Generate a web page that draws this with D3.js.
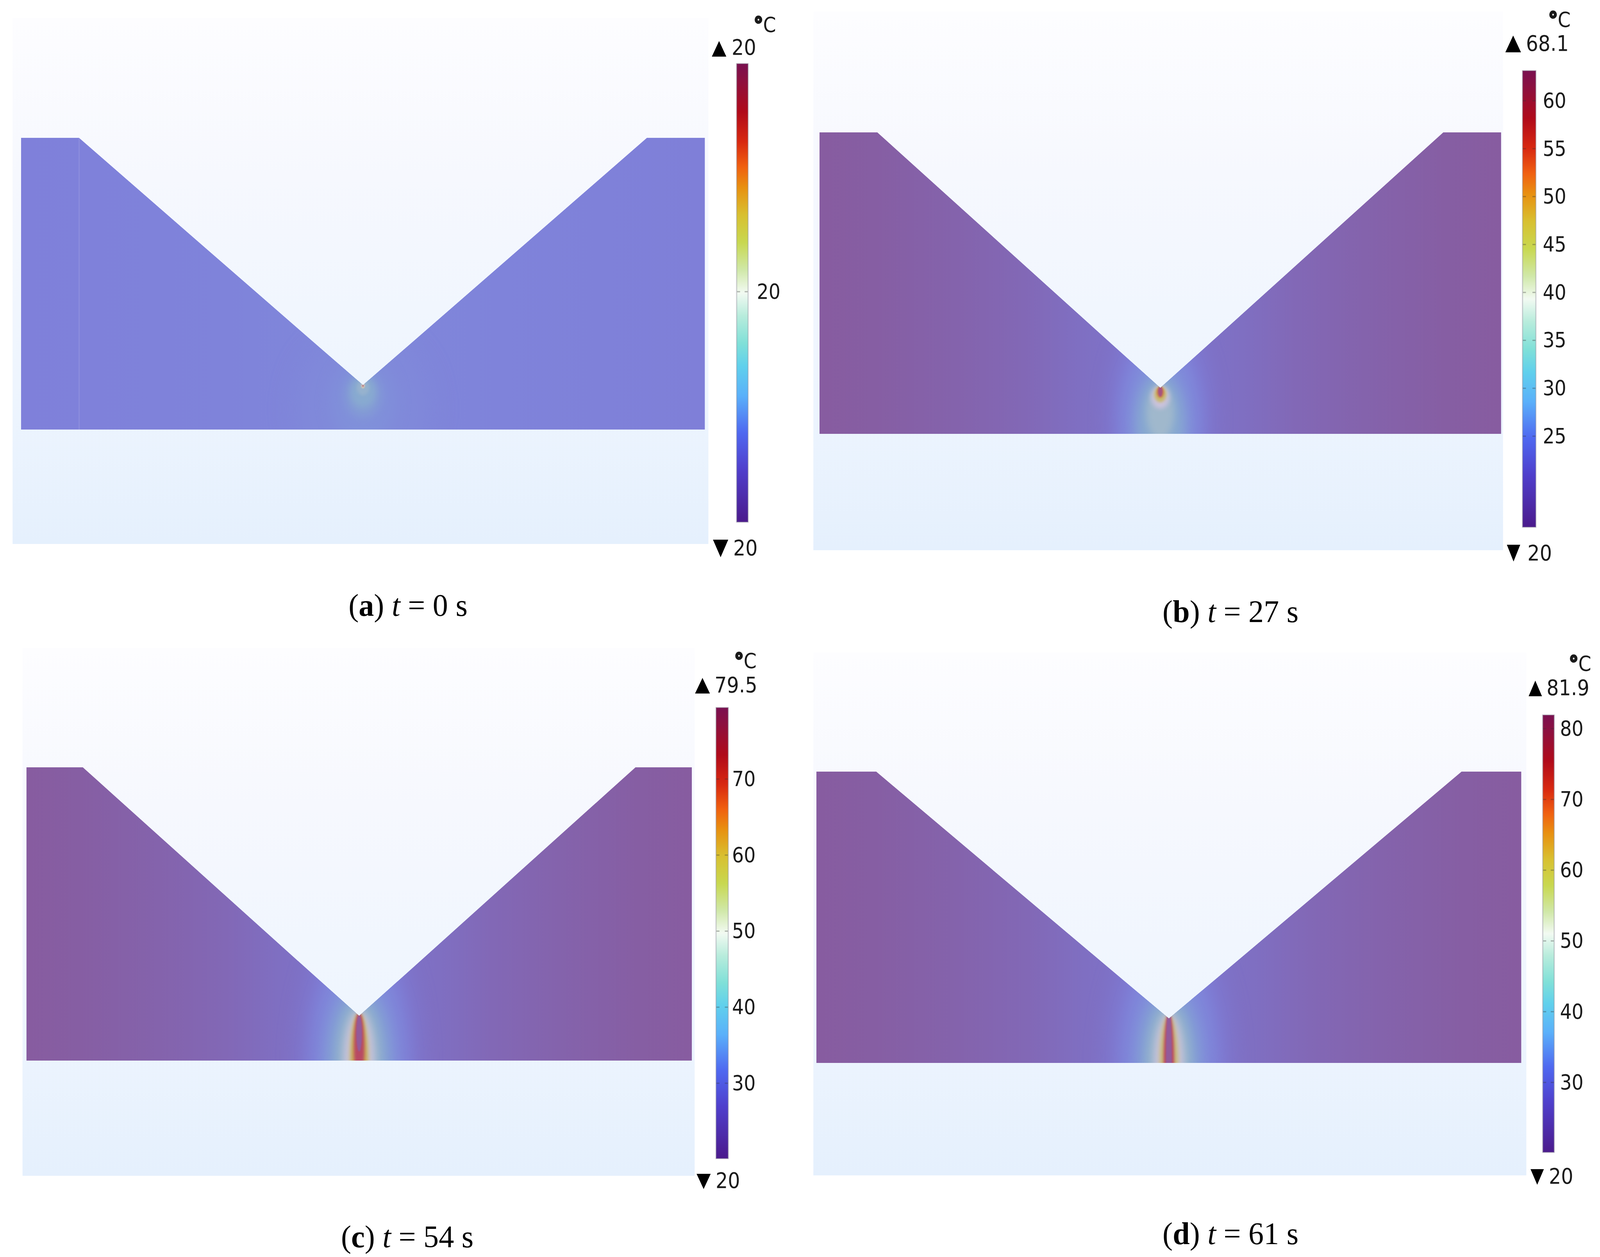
<!DOCTYPE html>
<html><head><meta charset="utf-8">
<script src="https://cdn.jsdelivr.net/npm/d3@7"></script>
<style>html,body{margin:0;padding:0;background:#fff;overflow:hidden}svg{display:block}</style>
</head><body><div id="chart"></div>
<script>
// ---------- data (model units: plate half-width 50, thickness 42) ----------
const panelIds   = ["a", "b", "c", "d"];
const timesS     = [0, 27, 54, 61];
const maxTemps   = ["20", "68.1", "79.5", "81.9"];
const minTemps   = ["20", "20", "20", "20"];
const ticksA = [20];
const ticksB = [25, 30, 35, 40, 45, 50, 55, 60];
const ticksC = [30, 40, 50, 60, 70];
const ticksD = [30, 40, 50, 60, 70, 80];

// plate outline with V groove
const outlineX = [-50, -41.5, 0, 41.5, 50, 50, -50];
const outlineY = [42, 42, 6.4, 42, 42, 0, 0];

// colour-bar stops: fraction of range, colour
const barFractions = [0, .115, .195, .275, .34, .39, .45, .50, .55, .61, .67, .73, .775, .83, .895, .965, 1];
const barColors = ["#4b1a8c","#4f3fcc","#4f68f0","#5ab0fa","#60d0ec","#80e0d8","#b8ecdc","#f2faf2","#d0e8a8","#c8d850","#d8c030","#e89010","#f06010","#d82810","#b00a1a","#8c1040","#7a1050"];

// colours seen on the plate for a relative temperature level
const fieldLevels = [0, .1, .15, .2, .3, .4, .5, .6, .7, .8, .9, 1];
const fieldColors = ["#875ca0","#7e72c8","#7f80da","#8090da","#88aad0","#a0b8cc","#cbc3dc","#c8c090","#c8b050","#c88050","#b84a64","#935a9a"];

// far-field level across the plate: [x, level]
const baseA = [[-50,.15],[-20,.16],[0,.175],[20,.16],[50,.145]];
const baseHot = [[-50,0],[-42,.008],[-30,.03],[-20,.055],[-12,.085],[-6,.1],[0,.11],[6,.1],[12,.085],[20,.055],[30,.03],[42,.008],[50,0]];

// isotherm bands: [level, half-width, centre y, half-height]
const bandsA = [[.18,9,3,10],[.2,4.5,4,6],[.25,2.6,5,3.2],[.3,1.8,5.4,2.2],[.36,.9,6,1.1],[.55,.3,6.3,.4],[.9,.1,6.3,.12]];
const bandsB = [[.15,6.8,2,14],[.2,5.2,1.5,10.5],[.3,3.5,1.5,6.8],[.4,2,3,3.8],[.5,1.35,5.1,1.6],[.65,.9,5.5,1.1],[.8,.55,5.8,.8],[.95,.32,5.9,.7]];
const bandsC = [[.15,8,0,19],[.2,6.2,0,14],[.3,4.4,0,10],[.4,3,0,8],[.5,2.2,0,7],[.65,1.4,0,6.7],[.75,1.05,0,6.7],[.9,.75,2,4.9],[1,.42,3.9,2.6]];
const bandsD = [[.15,7.8,0,19],[.2,5.8,0,14],[.3,4,0,10],[.4,2.8,0,8],[.5,2,0,7],[.65,1.3,0,6.8],[.9,.75,0,7.2],[1,.42,0,8]];

// ---------- layout ----------
const W = 4192, H = 3219;
const frames = [
 {bg:[33,46,1856,1393],  plate:[55,1847,1100,353],  bar:[1930,1960,163,1337],  dom:[19,21],  rng:[777,717],   pad:23, up:[1865,105,1903,145,1917,140],  dn:[1868,1382,1908,1427,1921,1422], unit:[1975,82],  cap:[1069,1577]},
 {bg:[2131,30,3938,1409],plate:[2147,3933,1111,339],bar:[3989,4024,181,1350],  dom:[25,60],  rng:[1117,258],  pad:18, up:[3944,91,3985,134,3998,130],   dn:[3948,1395,3983,1438,4002,1435], unit:[4057,69],  cap:[3224,1593]},
 {bg:[59,1660,1820,3011],plate:[69,1813,2716,1965], bar:[1876,1908,1812,2967], dom:[30,70],  rng:[2774,1995], pad:10, up:[1821,1736,1860,1776,1872,1773],dn:[1825,3006,1862,3045,1875,3042],unit:[1924,1711],cap:[1067,3194]},
 {bg:[2131,1671,3999,3010],plate:[2139,3986,2722,1976],bar:[4042,4072,1831,2951],dom:[30,80],rng:[2772,1866],pad:15, up:[4005,1743,4040,1783,4052,1780],dn:[4010,2994,4045,3034,4058,3031],unit:[4111,1718],cap:[3224,3186]}
];
const panelBands = [bandsA, bandsB, bandsC, bandsD];
const panelBase  = [baseA, baseHot, baseHot, baseHot];
const panelTicks = [ticksA, ticksB, ticksC, ticksD];

const levelColor = d3.scaleLinear().domain(fieldLevels).range(fieldColors);
// the browser window may be narrower than the figure: keep the whole figure in it
const svg = d3.select("#chart").append("svg")
  .attr("width", window.innerWidth).attr("height", H)
  .attr("viewBox", `0 0 ${W} ${H}`).attr("preserveAspectRatio", "none");
svg.append("rect").attr("width", W).attr("height", H).attr("fill", "#fff");
const defs = svg.append("defs");

const bgGrad = defs.append("linearGradient").attr("id", "bgGrad").attr("x1", 0).attr("x2", 0).attr("y1", 0).attr("y2", 1);
bgGrad.selectAll("stop").data([[0,"#fdfdff"],[.3,"#f6f8fe"],[.7,"#eef5fe"],[1,"#e5f0fd"]]).join("stop")
  .attr("offset", d => d[0]).attr("stop-color", d => d[1]);

const barGrad = defs.append("linearGradient").attr("id", "barGrad").attr("x1", 0).attr("x2", 0).attr("y1", 1).attr("y2", 0);
barGrad.selectAll("stop").data(barFractions).join("stop")
  .attr("offset", d => d).attr("stop-color", (d, i) => barColors[i]);

const fontSans = "'DejaVu Sans', sans-serif";

frames.forEach((f, p) => {
  const g = svg.append("g");
  const [bx0, by0, bx1, by1] = f.bg;
  g.append("rect").attr("x", bx0).attr("y", by0).attr("width", bx1 - bx0).attr("height", by1 - by0).attr("fill", "url(#bgGrad)");

  const x = d3.scaleLinear().domain([-50, 50]).range([f.plate[0], f.plate[1]]);
  const y = d3.scaleLinear().domain([0, 42]).range([f.plate[2], f.plate[3]]);
  const outline = d3.line().x(d => x(d[0])).y(d => y(d[1])).curve(d3.curveLinearClosed)(outlineX.map((v, i) => [v, outlineY[i]]));

  defs.append("clipPath").attr("id", "clip" + p).append("path").attr("d", outline);

  const baseGrad = defs.append("linearGradient").attr("id", "base" + p)
    .attr("gradientUnits", "userSpaceOnUse").attr("x1", x(-50)).attr("x2", x(50)).attr("y1", 0).attr("y2", 0);
  baseGrad.selectAll("stop").data(panelBase[p]).join("stop")
    .attr("offset", d => x.copy().range([0, 1])(d[0])).attr("stop-color", d => levelColor(d[1]));

  const plate = g.append("g").attr("clip-path", `url(#clip${p})`);
  plate.append("path").attr("d", outline).attr("fill", `url(#base${p})`);

  if (p === 0) {
    plate.append("line").attr("x1", x(-41.5)).attr("x2", x(-41.5)).attr("y1", y(42)).attr("y2", y(0))
      .attr("stroke", "#fff").attr("stroke-opacity", .1).attr("stroke-width", 3);
  }

  panelBands[p].forEach((b, i) => {
    const rx = x(b[1]) - x(0);
    const std = Math.max(1.2, rx * .24);
    defs.append("filter").attr("id", `blur${p}_${i}`).attr("filterUnits", "userSpaceOnUse")
      .attr("x", bx0 - 200).attr("y", by0 - 200).attr("width", bx1 - bx0 + 400).attr("height", by1 - by0 + 400)
      .attr("color-interpolation-filters", "sRGB")
      .append("feGaussianBlur").attr("stdDeviation", std);
    plate.append("ellipse").attr("cx", x(0)).attr("cy", y(b[2]))
      .attr("rx", rx).attr("ry", y(0) - y(b[3]))
      .attr("fill", levelColor(b[0])).attr("filter", `url(#blur${p}_${i})`);
  });

  // colour bar
  const [cx0, cx1, cy0, cy1] = f.bar;
  g.append("rect").attr("x", cx0).attr("y", cy0).attr("width", cx1 - cx0).attr("height", cy1 - cy0)
    .attr("fill", "url(#barGrad)").attr("stroke", "#8a8a96").attr("stroke-opacity", .4).attr("stroke-width", 3);

  const tickScale = d3.scaleLinear().domain(f.dom).range(f.rng);
  const axis = d3.axisRight(tickScale).tickValues(panelTicks[p]).tickSize(0).tickPadding(f.pad).tickFormat(d3.format("d"));
  const axG = g.append("g").attr("transform", `translate(${cx1},0)`).call(axis);
  axG.select(".domain").remove();
  axG.selectAll("text").attr("font-family", fontSans).attr("font-stretch", "condensed").attr("font-size", 54).attr("fill", "#1a1a1a");

  g.selectAll(null).data(panelTicks[p]).join("g").each(function (t) {
    const m = d3.select(this);
    [[cx0 + 1, cx0 + 9], [cx1 - 9, cx1 - 1]].forEach(s => {
      m.append("line").attr("x1", s[0]).attr("x2", s[1]).attr("y1", tickScale(t)).attr("y2", tickScale(t))
        .attr("stroke", "#333").attr("stroke-opacity", .35).attr("stroke-width", 3);
    });
  });

  // max / min markers
  const u = f.up, d = f.dn;
  g.append("path").attr("d", `M${u[0]},${u[3]}L${u[2]},${u[3]}L${(u[0] + u[2]) / 2},${u[1]}Z`).attr("fill", "#000");
  g.append("text").attr("x", u[4]).attr("y", u[5]).text(maxTemps[p])
    .attr("font-family", fontSans).attr("font-stretch", "condensed").attr("font-size", 56).attr("fill", "#1a1a1a");
  g.append("path").attr("d", `M${d[0]},${d[1]}L${d[2]},${d[1]}L${(d[0] + d[2]) / 2},${d[3]}Z`).attr("fill", "#000");
  g.append("text").attr("x", d[4]).attr("y", d[5]).text(minTemps[p])
    .attr("font-family", fontSans).attr("font-stretch", "condensed").attr("font-size", 56).attr("fill", "#1a1a1a");
  const unit = g.append("text").attr("x", f.unit[0]).attr("y", f.unit[1])
    .attr("font-family", fontSans).attr("font-stretch", "condensed").attr("font-size", 54).attr("fill", "#1a1a1a");
  unit.append("tspan").attr("font-weight", "bold").attr("stroke", "#1a1a1a").attr("stroke-width", 4).text("°");
  unit.append("tspan").text("C");

  // caption
  const cap = g.append("text").attr("x", f.cap[0]).attr("y", f.cap[1]).attr("text-anchor", "middle")
    .attr("font-family", "'Liberation Serif', serif").attr("font-size", 80).attr("fill", "#000");
  cap.append("tspan").text("(");
  cap.append("tspan").attr("font-weight", "bold").text(panelIds[p]);
  cap.append("tspan").text(") ");
  cap.append("tspan").attr("font-style", "italic").text("t");
  cap.append("tspan").text(` = ${timesS[p]} s`);
});
</script></body></html>
